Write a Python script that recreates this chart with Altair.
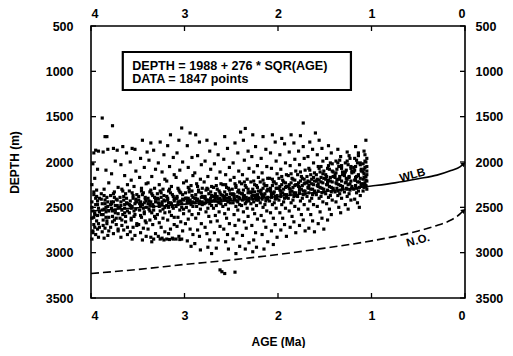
import altair as alt
import pandas as pd

# Scatter data (age Ma, depth m)
POINTS = [
(3.88,1515),(3.97,1900),(3.95,1870),(3.92,1880),(3.98,2020),(3.93,2080),(3.96,2180),(3.99,2250),(3.94,2310),(3.97,2360),
(3.91,2400),(3.99,2440),(3.95,2470),(3.92,2510),(3.98,2540),(3.96,2560),(3.93,2590),(3.99,2620),(3.94,2650),(3.97,2690),
(3.91,2720),(3.98,2760),(3.95,2800),(3.92,2830),(3.99,2850),(3.96,2720),(3.93,2470),
(3.85,1720),(3.83,1720),(3.82,1860),(3.87,1890),(3.84,2090),(3.81,2230),(3.86,2300),(3.89,2350),(3.83,2390),(3.85,2420),
(3.88,2460),(3.82,2490),(3.86,2520),(3.84,2550),(3.89,2580),(3.81,2610),(3.87,2640),(3.83,2680),(3.85,2730),(3.88,2770),
(3.82,2810),(3.86,2840),(3.84,2500),
(3.77,1600),(3.76,1850),(3.72,1870),(3.74,1990),(3.78,2130),(3.71,2280),(3.75,2330),(3.79,2370),(3.73,2410),(3.76,2440),
(3.72,2480),(3.78,2510),(3.74,2530),(3.71,2570),(3.77,2600),(3.75,2640),(3.73,2690),(3.79,2720),(3.71,2760),(3.76,2790),
(3.74,2480),(3.78,2440),
(3.66,1830),(3.62,1900),(3.68,2030),(3.64,2150),(3.61,2250),(3.67,2300),(3.63,2350),(3.69,2390),(3.65,2420),(3.62,2450),
(3.68,2480),(3.64,2510),(3.61,2540),(3.66,2580),(3.69,2620),(3.63,2660),(3.67,2700),(3.65,2750),(3.61,2800),(3.68,2830),
(3.64,2470),
(3.56,1850),(3.53,1860),(3.58,2000),(3.52,2100),(3.57,2200),(3.54,2270),(3.59,2320),(3.51,2360),(3.55,2400),(3.58,2430),
(3.53,2460),(3.56,2490),(3.52,2520),(3.59,2560),(3.54,2600),(3.57,2640),(3.51,2680),(3.55,2720),(3.58,2770),(3.53,2810),
(3.56,2850),(3.52,2440),
(3.45,1760),(3.40,1890),(3.47,1960),(3.43,2060),(3.48,2170),(3.41,2240),(3.46,2290),(3.44,2340),(3.49,2380),(3.42,2410),
(3.47,2440),(3.45,2470),(3.41,2500),(3.48,2530),(3.43,2570),(3.46,2610),(3.42,2650),(3.49,2690),(3.44,2730),(3.47,2780),
(3.41,2820),(3.45,2860),(3.43,2450),
(3.36,1790),(3.33,1870),(3.38,1980),(3.31,2080),(3.35,2160),(3.39,2230),(3.32,2290),(3.37,2330),(3.34,2370),(3.31,2410),
(3.36,2440),(3.39,2460),(3.33,2490),(3.38,2520),(3.35,2560),(3.32,2600),(3.37,2640),(3.34,2690),(3.39,2740),(3.31,2790),
(3.36,2830),(3.33,2850),(3.35,2880),
(3.26,1780),(3.22,1920),(3.28,2010),(3.24,2110),(3.21,2190),(3.27,2250),(3.23,2300),(3.29,2350),(3.25,2390),(3.22,2420),
(3.28,2450),(3.24,2470),(3.21,2500),(3.26,2540),(3.29,2580),(3.23,2620),(3.27,2670),(3.25,2720),(3.21,2770),(3.28,2820),
(3.24,2840),(3.22,2860),(3.26,2850),
(3.15,1700),(3.18,1820),(3.12,1950),(3.16,2050),(3.11,2140),(3.19,2210),(3.14,2270),(3.17,2320),(3.13,2360),(3.18,2400),
(3.11,2430),(3.15,2450),(3.19,2480),(3.12,2510),(3.16,2550),(3.14,2590),(3.18,2640),(3.11,2690),(3.15,2740),(3.17,2790),
(3.13,2840),(3.19,2850),(3.12,2850),(3.16,2855),
(3.03,1625),(3.06,1760),(3.08,1900),(3.02,2000),(3.05,2090),(3.09,2170),(3.01,2230),(3.07,2290),(3.04,2340),(3.08,2380),
(3.02,2410),(3.06,2440),(3.03,2460),(3.09,2490),(3.05,2530),(3.01,2570),(3.07,2610),(3.04,2660),(3.08,2710),(3.02,2760),
(3.06,2820),(3.03,2850),(3.09,2850),(3.05,2855),
(2.94,1680),(2.97,1820),(2.92,1950),(2.96,2060),(2.91,2150),(2.98,2210),(2.93,2260),(2.95,2300),(2.99,2340),(2.92,2370),
(2.96,2400),(2.94,2420),(2.91,2440),(2.97,2450),(2.93,2470),(2.98,2500),(2.95,2540),(2.92,2580),(2.96,2630),(2.99,2680),
(2.94,2740),(2.91,2800),(2.97,2870),(2.93,2930),
(2.88,1700),(2.84,1780),(2.86,1930),(2.82,2030),(2.89,2120),(2.83,2190),(2.87,2240),(2.81,2290),(2.85,2330),(2.88,2360),
(2.82,2390),(2.86,2410),(2.84,2430),(2.89,2450),(2.81,2470),(2.87,2490),(2.83,2520),(2.85,2570),(2.88,2620),(2.82,2680),
(2.86,2750),(2.84,2820),(2.89,2900),(2.83,2970),
(2.76,1760),(2.73,1880),(2.78,1990),(2.72,2080),(2.75,2160),(2.79,2220),(2.71,2270),(2.77,2310),(2.74,2350),(2.78,2380),
(2.72,2400),(2.76,2420),(2.73,2440),(2.79,2460),(2.71,2480),(2.75,2510),(2.77,2550),(2.74,2600),(2.72,2660),(2.78,2720),
(2.76,2790),(2.73,2860),(2.75,2940),(2.71,3010),
(2.67,1800),(2.64,1920),(2.68,2020),(2.62,2110),(2.66,2180),(2.61,2240),(2.69,2280),(2.63,2320),(2.67,2350),(2.65,2380),
(2.62,2400),(2.68,2420),(2.64,2440),(2.61,2460),(2.66,2480),(2.69,2510),(2.63,2550),(2.67,2590),(2.65,2650),(2.62,2710),
(2.68,2780),(2.64,2860),(2.66,2950),(2.62,3190),(2.60,3210),
(2.57,1720),(2.54,1850),(2.58,1970),(2.52,2060),(2.56,2140),(2.51,2200),(2.59,2250),(2.53,2290),(2.57,2330),(2.55,2360),
(2.52,2390),(2.58,2410),(2.54,2430),(2.51,2450),(2.56,2470),(2.59,2490),(2.53,2520),(2.57,2570),(2.55,2620),(2.52,2680),
(2.58,2740),(2.54,2800),(2.56,2880),(2.53,2960),(2.57,3230),
(2.40,1670),(2.46,1790),(2.43,1900),(2.48,2010),(2.42,2100),(2.47,2170),(2.41,2220),(2.45,2260),(2.49,2300),(2.43,2330),
(2.47,2360),(2.42,2390),(2.46,2410),(2.44,2430),(2.48,2450),(2.41,2470),(2.45,2490),(2.43,2530),(2.47,2580),(2.42,2640),
(2.46,2700),(2.44,2780),(2.48,2850),(2.41,2930),(2.46,3215),(2.45,3010),
(2.35,1630),(2.37,1760),(2.32,1880),(2.36,1980),(2.31,2070),(2.38,2140),(2.33,2190),(2.39,2240),(2.34,2280),(2.37,2310),
(2.32,2340),(2.36,2370),(2.31,2400),(2.38,2420),(2.34,2440),(2.35,2460),(2.39,2480),(2.33,2510),(2.37,2550),(2.32,2600),
(2.36,2660),(2.34,2730),(2.38,2810),(2.31,2890),(2.35,2960),
(2.27,1700),(2.24,1830),(2.28,1940),(2.22,2040),(2.26,2110),(2.21,2170),(2.29,2220),(2.23,2260),(2.27,2300),(2.25,2330),
(2.22,2360),(2.28,2380),(2.24,2400),(2.21,2420),(2.26,2440),(2.29,2460),(2.23,2480),(2.27,2520),(2.25,2570),(2.22,2630),
(2.28,2700),(2.24,2780),(2.26,2860),(2.23,2940),(2.27,2990),
(2.16,1720),(2.13,1860),(2.18,1960),(2.12,2050),(2.17,2120),(2.11,2180),(2.19,2220),(2.14,2260),(2.16,2290),(2.12,2320),
(2.18,2350),(2.15,2370),(2.11,2390),(2.17,2410),(2.13,2430),(2.19,2450),(2.14,2470),(2.16,2500),(2.12,2540),(2.18,2590),
(2.15,2650),(2.13,2720),(2.17,2800),(2.11,2880),(2.15,2960),
(2.06,1700),(2.03,1780),(2.08,1900),(2.02,1990),(2.07,2070),(2.01,2130),(2.09,2180),(2.04,2220),(2.06,2260),(2.02,2290),
(2.08,2320),(2.05,2350),(2.01,2370),(2.07,2390),(2.03,2410),(2.09,2430),(2.04,2450),(2.06,2470),(2.02,2510),(2.08,2560),
(2.05,2620),(2.03,2690),(2.07,2760),(2.01,2830),(2.05,2910),
(1.96,1740),(1.93,1800),(1.98,1920),(1.92,2010),(1.97,2080),(1.91,2140),(1.99,2180),(1.94,2220),(1.96,2250),(1.92,2280),
(1.98,2310),(1.95,2340),(1.91,2360),(1.97,2380),(1.93,2400),(1.99,2420),(1.94,2440),(1.96,2470),(1.92,2510),(1.98,2560),
(1.95,2620),(1.93,2690),(1.97,2750),(1.91,2820),
(1.86,1700),(1.83,1790),(1.88,1890),(1.82,1970),(1.87,2040),(1.81,2100),(1.89,2150),(1.84,2190),(1.86,2230),(1.82,2260),
(1.88,2290),(1.85,2320),(1.81,2340),(1.87,2360),(1.83,2380),(1.89,2400),(1.84,2420),(1.86,2450),(1.82,2490),(1.88,2540),
(1.85,2600),(1.83,2660),(1.87,2720),(1.81,2780),
(1.76,1710),(1.73,1570),(1.78,1880),(1.72,1960),(1.77,2030),(1.71,2090),(1.79,2140),(1.74,2180),(1.76,2210),(1.72,2240),
(1.78,2270),(1.75,2300),(1.71,2320),(1.77,2340),(1.73,2360),(1.79,2380),(1.74,2400),(1.76,2430),(1.72,2470),(1.78,2520),
(1.75,2580),(1.73,2640),(1.77,2700),(1.71,2760),(1.73,1830),
(1.60,1680),(1.66,1780),(1.63,1860),(1.68,1940),(1.62,2010),(1.67,2070),(1.61,2120),(1.69,2160),(1.64,2190),(1.66,2220),
(1.62,2250),(1.68,2280),(1.65,2300),(1.61,2320),(1.67,2340),(1.63,2360),(1.69,2380),(1.64,2400),(1.66,2430),(1.62,2470),
(1.68,2520),(1.65,2580),(1.63,2650),(1.67,2730),(1.61,2770),
(1.56,1760),(1.53,1850),(1.58,1920),(1.52,1990),(1.57,2050),(1.51,2100),(1.59,2140),(1.54,2170),(1.56,2200),(1.52,2230),
(1.58,2260),(1.55,2280),(1.51,2300),(1.57,2320),(1.53,2340),(1.59,2360),(1.54,2380),(1.56,2400),(1.52,2440),(1.58,2490),
(1.55,2550),(1.53,2620),(1.57,2680),(1.51,2740),
(1.46,1820),(1.43,1900),(1.48,1960),(1.42,2020),(1.47,2070),(1.41,2110),(1.49,2140),(1.44,2170),(1.46,2200),(1.42,2220),
(1.48,2250),(1.45,2270),(1.41,2290),(1.47,2310),(1.43,2330),(1.49,2350),(1.44,2370),(1.46,2390),(1.42,2420),(1.48,2460),
(1.45,2520),(1.43,2580),(1.47,2640),
(1.36,1860),(1.33,1940),(1.38,1990),(1.32,2040),(1.37,2080),(1.31,2110),(1.39,2140),(1.34,2160),(1.36,2190),(1.32,2210),
(1.38,2230),(1.35,2250),(1.31,2270),(1.37,2290),(1.33,2310),(1.39,2330),(1.34,2350),(1.36,2370),(1.32,2400),(1.38,2440),
(1.35,2500),(1.33,2560),
(1.26,1890),(1.23,1960),(1.28,2010),(1.22,2050),(1.27,2090),(1.21,2120),(1.29,2150),(1.24,2170),(1.26,2190),(1.22,2210),
(1.28,2230),(1.25,2250),(1.21,2270),(1.27,2290),(1.23,2310),(1.29,2330),(1.24,2350),(1.26,2380),(1.22,2420),(1.28,2470),
(1.25,2520),
(1.17,1830),(1.14,1900),(1.18,1960),(1.12,2010),(1.17,2050),(1.11,2080),(1.19,2110),(1.14,2140),(1.16,2160),(1.12,2180),
(1.18,2200),(1.15,2220),(1.11,2240),(1.17,2260),(1.13,2280),(1.19,2300),(1.14,2320),(1.16,2340),(1.12,2370),(1.18,2410),
(1.15,2450),(1.13,2500),
(1.06,1760),(1.08,1880),(1.05,1960),(1.09,2020),(1.07,2060),(1.05,2100),(1.08,2130),(1.06,2160),(1.09,2190),(1.05,2210),
(1.07,2230),(1.08,2250),(1.06,2270),(1.05,2300),(1.09,2320),
]

# Extra points in the dense core band
CORE = [
(3.97,2330),(3.93,2430),(3.96,2580),(3.92,2680),(3.98,2780),(3.94,2380),
(3.86,2370),(3.82,2440),(3.88,2530),(3.84,2610),(3.87,2700),(3.81,2760),
(3.76,2350),(3.72,2420),(3.78,2460),(3.74,2560),(3.77,2660),(3.71,2740),
(3.66,2320),(3.62,2400),(3.68,2440),(3.64,2560),(3.67,2640),(3.61,2720),
(3.56,2340),(3.52,2410),(3.58,2480),(3.54,2540),(3.57,2620),(3.51,2700),
(3.46,2320),(3.42,2390),(3.48,2460),(3.44,2510),(3.47,2590),(3.41,2670),
(3.36,2310),(3.32,2390),(3.38,2430),(3.34,2470),(3.37,2540),(3.31,2620),
(3.26,2320),(3.22,2370),(3.28,2410),(3.24,2440),(3.27,2490),(3.21,2560),
(3.16,2300),(3.12,2380),(3.18,2420),(3.14,2460),(3.17,2500),(3.11,2610),
(3.06,2310),(3.02,2360),(3.08,2400),(3.04,2430),(3.07,2470),(3.01,2520),
(2.96,2280),(2.92,2320),(2.98,2400),(2.94,2440),(2.97,2430),(2.91,2490),
(2.86,2270),(2.82,2340),(2.88,2400),(2.84,2460),(2.87,2420),(2.81,2440),
(2.76,2290),(2.72,2330),(2.78,2400),(2.74,2420),(2.77,2450),(2.71,2430),
(2.66,2260),(2.62,2340),(2.68,2380),(2.64,2410),(2.67,2430),(2.61,2420),
(2.56,2250),(2.52,2310),(2.58,2380),(2.54,2400),(2.57,2420),(2.51,2410),
(2.46,2240),(2.42,2310),(2.48,2350),(2.44,2380),(2.47,2420),(2.41,2400),
(2.36,2220),(2.32,2300),(2.38,2350),(2.34,2390),(2.37,2410),(2.31,2430),
(2.26,2210),(2.22,2280),(2.28,2330),(2.24,2370),(2.27,2410),(2.21,2390),
(2.16,2200),(2.12,2260),(2.18,2310),(2.14,2350),(2.17,2390),(2.11,2410),
(2.06,2190),(2.02,2240),(2.08,2290),(2.04,2330),(2.07,2370),(2.01,2400),
(1.96,2160),(1.92,2230),(1.98,2270),(1.94,2300),(1.97,2350),(1.91,2390),
(1.86,2130),(1.82,2200),(1.88,2250),(1.84,2280),(1.87,2330),(1.81,2370),
(1.76,2110),(1.72,2190),(1.78,2230),(1.74,2260),(1.77,2310),(1.71,2350),
(1.66,2090),(1.62,2170),(1.68,2210),(1.64,2240),(1.67,2290),(1.61,2340),
(1.56,2070),(1.52,2130),(1.58,2190),(1.54,2220),(1.57,2270),(1.51,2330),
(1.46,2040),(1.42,2100),(1.48,2160),(1.44,2210),(1.47,2250),(1.41,2310),
(1.36,2010),(1.32,2070),(1.38,2120),(1.34,2190),(1.37,2240),(1.31,2300),
(1.26,1990),(1.22,2070),(1.28,2110),(1.24,2160),(1.27,2220),(1.21,2290),
(1.16,1980),(1.12,2030),(1.18,2090),(1.14,2150),(1.17,2200),(1.11,2260),
(1.06,2000),(1.08,2080),(1.05,2140),(1.09,2240),(1.06,2260),(1.08,2170),
]

CORE2 = [
(3.95,2400),(3.91,2550),(3.97,2610),(3.93,2740),(3.99,2500),
(3.85,2460),(3.81,2540),(3.87,2580),(3.83,2650),(3.89,2410),
(3.75,2390),(3.71,2500),(3.77,2540),(3.73,2620),(3.79,2470),
(3.65,2380),(3.61,2460),(3.67,2530),(3.63,2600),(3.69,2500),
(3.55,2370),(3.51,2440),(3.57,2510),(3.53,2580),(3.59,2470),
(3.45,2360),(3.41,2430),(3.47,2490),(3.43,2550),(3.49,2420),
(3.35,2350),(3.31,2440),(3.37,2470),(3.33,2530),(3.39,2400),
(3.25,2340),(3.21,2430),(3.27,2460),(3.23,2520),(3.29,2400),
(3.15,2340),(3.11,2410),(3.17,2450),(3.13,2490),(3.19,2380),
(3.05,2330),(3.01,2420),(3.07,2440),(3.03,2500),(3.09,2400),
(2.95,2330),(2.91,2390),(2.97,2420),(2.93,2450),(2.99,2400),
(2.85,2310),(2.81,2380),(2.87,2430),(2.83,2450),(2.89,2400),
(2.75,2300),(2.71,2370),(2.77,2420),(2.73,2460),(2.79,2390),
(2.65,2300),(2.61,2360),(2.67,2400),(2.63,2450),(2.69,2380),
(2.55,2280),(2.51,2350),(2.57,2390),(2.53,2440),(2.59,2370),
(2.45,2280),(2.41,2340),(2.47,2390),(2.43,2440),(2.49,2360),
(2.35,2260),(2.31,2330),(2.37,2380),(2.33,2420),(2.39,2350),
(2.25,2250),(2.21,2320),(2.27,2370),(2.23,2420),(2.29,2340),
(2.15,2240),(2.11,2300),(2.17,2360),(2.13,2400),(2.19,2330),
(2.05,2220),(2.01,2290),(2.07,2340),(2.03,2380),(2.09,2310),
(1.95,2200),(1.91,2270),(1.97,2320),(1.93,2360),(1.99,2290),
(1.85,2180),(1.81,2250),(1.87,2300),(1.83,2340),(1.89,2270),
(1.75,2160),(1.71,2230),(1.77,2280),(1.73,2320),(1.79,2250),
(1.65,2140),(1.61,2210),(1.67,2260),(1.63,2300),(1.69,2230),
(1.55,2110),(1.51,2180),(1.57,2240),(1.53,2290),(1.59,2210),(1.54,2050),
(1.45,2080),(1.41,2160),(1.47,2220),(1.43,2280),(1.49,2190),(1.44,2010),
(1.35,2050),(1.31,2140),(1.37,2200),(1.33,2260),(1.39,2170),(1.34,1980),(1.36,2320),
(1.25,2030),(1.21,2100),(1.27,2180),(1.23,2240),(1.29,2130),(1.24,1930),(1.26,2300),
(1.15,2010),(1.11,2100),(1.17,2170),(1.13,2220),(1.19,2060),(1.14,1930),(1.16,2290),
(1.07,1990),(1.05,2050),(1.09,2110),(1.06,2200),(1.08,2280),(1.07,1920),
]

# WLB and N.O. curves
WLB_AGE = [4.0, 3.5, 3.0, 2.5, 2.0, 1.5, 1.0, 0.75, 0.5, 0.3, 0.15, 0.05, 0.02]
WLB_DEPTH = [2540, 2505, 2465, 2425, 2380, 2325, 2265, 2230, 2185, 2145, 2095, 2050, 2025]
NO_AGE = [4.0, 3.5, 3.0, 2.5, 2.0, 1.5, 1.0, 0.75, 0.5, 0.3, 0.15, 0.05, 0.02]
NO_DEPTH = [3230, 3185, 3130, 3080, 3020, 2950, 2870, 2820, 2760, 2700, 2640, 2570, 2540]

X_TICKS = [4, 3, 2, 1, 0]
Y_TICKS = [500, 1000, 1500, 2000, 2500, 3000, 3500]

BOX_TEXT = ["DEPTH = 1988 + 276 * SQR(AGE)", "DATA = 1847 points"]

FONT = "Liberation Sans"
W, H = 374, 272

pts = pd.DataFrame(POINTS + CORE + CORE2, columns=["age", "depth"])
wlb = pd.DataFrame({"age": WLB_AGE, "depth": WLB_DEPTH})
no = pd.DataFrame({"age": NO_AGE, "depth": NO_DEPTH})

xs = alt.Scale(domain=[0, 4], reverse=True, nice=False, zero=False)
ys = alt.Scale(domain=[500, 3500], reverse=True, nice=False, zero=False)

axis_common = dict(grid=False, domain=False, ticks=False, labelFont=FONT, labelFontWeight="bold",
                   labelFontSize=12.5, labelColor="black", titleFont=FONT, titleFontWeight="bold",
                   titleFontSize=12, titleColor="black", format="d")

x_bottom = alt.X("age:Q", scale=xs, axis=alt.Axis(orient="bottom", values=X_TICKS, title="AGE (Ma)",
                 labelPadding=11, titlePadding=15, **axis_common))
y_left = alt.Y("depth:Q", scale=ys, axis=alt.Axis(orient="left", values=Y_TICKS, title="DEPTH (m)",
               labelPadding=18, titlePadding=24, **axis_common))
x_top = alt.X("age:Q", scale=xs, axis=alt.Axis(orient="top", values=X_TICKS, title=None,
              labelPadding=6, **axis_common))
y_right = alt.Y("depth:Q", scale=ys, axis=alt.Axis(orient="right", values=Y_TICKS, title=None,
                labelPadding=10, **axis_common))

scatter = alt.Chart(pts).mark_square(size=10, color="black", opacity=1).encode(x=x_bottom, y=y_left)

wlb_line = alt.Chart(wlb).mark_line(color="black", strokeWidth=1.6, interpolate="monotone").encode(
    x=x_top, y=y_right)
no_line = alt.Chart(no).mark_line(color="black", strokeWidth=1.6, strokeDash=[8, 4], interpolate="monotone").encode(
    x=alt.X("age:Q", scale=xs, axis=None), y=alt.Y("depth:Q", scale=ys, axis=None))

ends = pd.DataFrame({"age": [WLB_AGE[-1], NO_AGE[-1]], "depth": [WLB_DEPTH[-1], NO_DEPTH[-1]]})
arrows = alt.Chart(ends).mark_point(shape="triangle", filled=True, color="black", size=28, angle=50, opacity=1).encode(
    x=alt.X("age:Q", scale=xs, axis=None), y=alt.Y("depth:Q", scale=ys, axis=None))

labels = pd.DataFrame({"age": [0.56, 0.50], "depth": [2150, 2870], "text": ["WLB", "N.O."]})
line_labels = alt.Chart(labels).mark_text(font=FONT, fontWeight="bold", fontSize=11.5, angle=345,
                                          color="black").encode(
    x=alt.X("age:Q", scale=xs, axis=None), y=alt.Y("depth:Q", scale=ys, axis=None), text="text:N")

box = pd.DataFrame({"a1": [3.66], "a2": [1.22], "d1": [787], "d2": [1206]})
box_rect = alt.Chart(box).mark_rect(fill="white", stroke="black", strokeWidth=2.2).encode(
    x=alt.X("a1:Q", scale=xs, axis=None), x2="a2:Q",
    y=alt.Y("d1:Q", scale=ys, axis=None), y2="d2:Q")

box_txt = pd.DataFrame({"age": [3.56, 3.56], "depth": [940, 1090], "text": BOX_TEXT})
box_text = alt.Chart(box_txt).mark_text(font=FONT, fontWeight="bold", fontSize=12.6, align="left",
                                        baseline="middle", color="black").encode(
    x=alt.X("age:Q", scale=xs, axis=None), y=alt.Y("depth:Q", scale=ys, axis=None), text="text:N")

xt = pd.DataFrame({"age": X_TICKS})
yt = pd.DataFrame({"depth": Y_TICKS})
tick_top = alt.Chart(xt).mark_rule(color="black", strokeWidth=1.3).encode(
    x=alt.X("age:Q", scale=xs, axis=None), y=alt.value(0), y2=alt.value(5))
tick_bot = alt.Chart(xt).mark_rule(color="black", strokeWidth=1.3).encode(
    x=alt.X("age:Q", scale=xs, axis=None), y=alt.value(H - 5), y2=alt.value(H))
tick_left = alt.Chart(yt).mark_rule(color="black", strokeWidth=1.3).encode(
    y=alt.Y("depth:Q", scale=ys, axis=None), x=alt.value(0), x2=alt.value(5))
tick_right = alt.Chart(yt).mark_rule(color="black", strokeWidth=1.3).encode(
    y=alt.Y("depth:Q", scale=ys, axis=None), x=alt.value(W - 5), x2=alt.value(W))

chart = alt.layer(
    scatter, wlb_line, no_line, arrows, line_labels, box_rect, box_text,
    tick_top, tick_bot, tick_left, tick_right
).resolve_axis(x="independent", y="independent").properties(
    width=W, height=H,
    autosize=alt.AutoSizeParams(type="none"),
    padding={"left": 83, "top": 18, "right": 40, "bottom": 50},
    background="white",
).configure_view(stroke="black", strokeWidth=1.6)

chart.save("out.html", embed_options={"renderer": "svg", "actions": False})
